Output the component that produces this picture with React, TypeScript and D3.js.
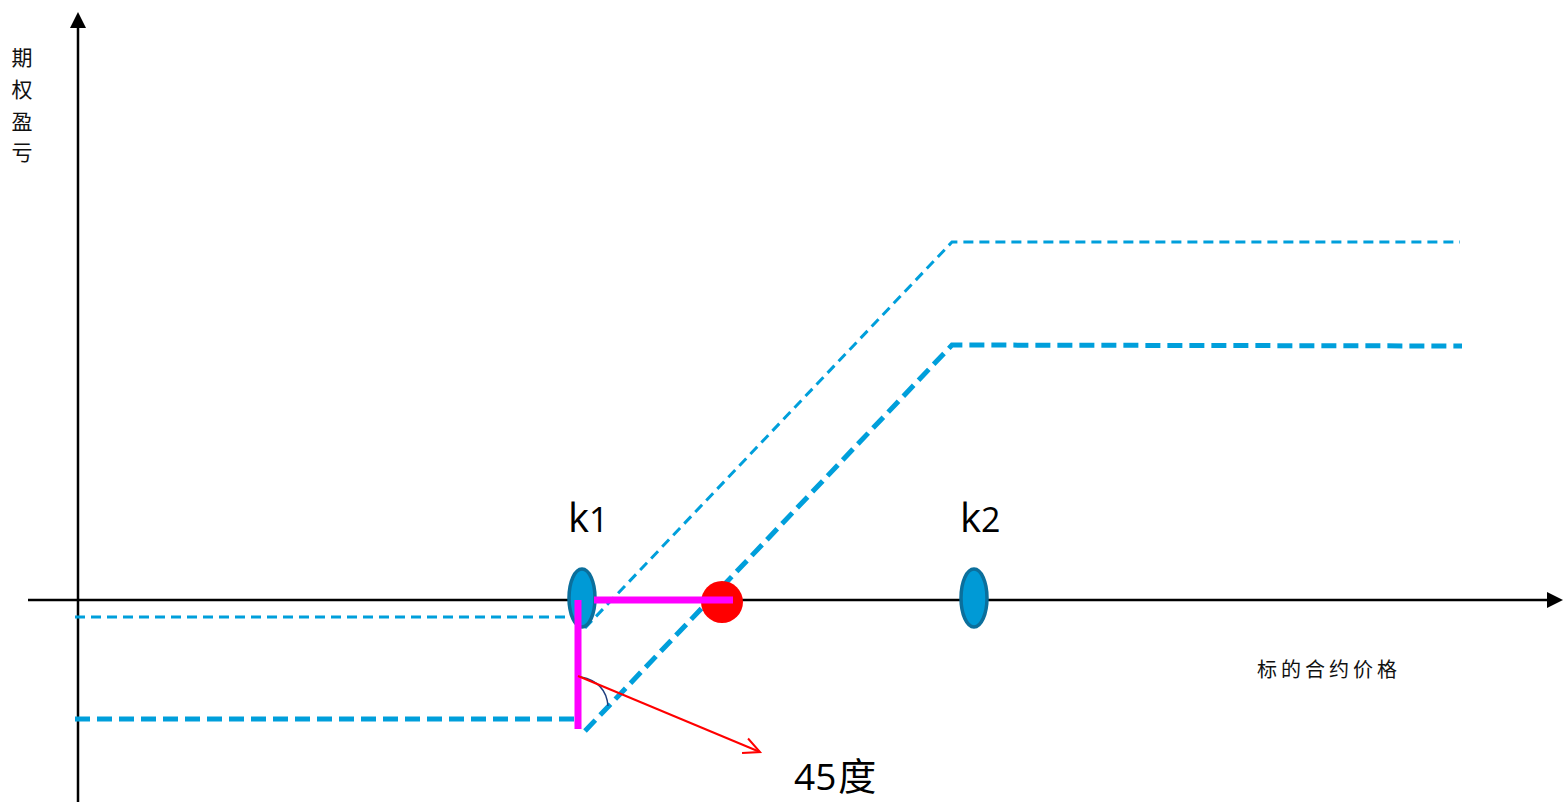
import React from "react";
import * as d3 from "d3";

const W = 1564;
const H = 802;

// price units (x) and profit units (y)
const xAxisExtent = [-5, 148.5];
const yAxisExtent = [-20.4, 58.8];

const thinFlat = [[-0.3, -1.7], [50.3, -1.7]];
const thinRise = [[50.7, -2.8], [87.4, 35.8], [138.2, 35.8]];
const thickFlat = [[-0.3, -11.9], [50.0, -11.9]];
const thickRise = [[50.7, -13.1], [87.4, 25.5], [138.4, 25.4]];

const strikes = [{ label: "k", sub: "1", x: 50.4 }, { label: "k", sub: "2", x: 89.6 }];
const breakEven = [64.4, -0.2];
const magentaH = [[51.6, 0], [65.5, 0]];
const magentaV = [[50.0, 0], [50.0, -12.9]];
const angleArrow = [[50.0, -7.6], [68.2, -15.2]];

const yLabelChars = ["期", "权", "盈", "亏"];
const xLabel = "标的合约价格";
const angleLabel = ["45", "度"];

const x = d3.scaleLinear().domain([0, 150]).range([78, 1578]);
const y = d3.scaleLinear().domain([0, 60]).range([600, 0]);
const line = d3.line<number[]>().x((d) => x(d[0])).y((d) => y(d[1]));

export default function App() {
  const ax0 = x(xAxisExtent[0]);
  const ax1 = x(xAxisExtent[1]);
  const ay = y(0);
  const vx = x(0);
  const vy0 = y(yAxisExtent[0]);
  const vy1 = y(yAxisExtent[1]);
  const blue = "#009fdb";
  const arr0 = angleArrow[0];
  const arr1 = angleArrow[1];
  const ex = x(arr1[0]);
  const ey = y(arr1[1]);
  const ang = Math.atan2(ey - y(arr0[1]), ex - x(arr0[0]));
  const hl = 18;
  const ha = 0.45;
  const arcStart = [x(arr0[0]) + 3, y(arr0[1]) + 1];
  return (
    <svg width={W} height={H} style={{ position: "absolute", left: 0, top: 0, background: "#fff" }}>
      {/* axes */}
      <line x1={ax0} y1={ay} x2={ax1 - 14} y2={ay} stroke="#000" strokeWidth={2.5} />
      <polygon points={`${ax1},${ay} ${ax1 - 16},${ay - 8} ${ax1 - 16},${ay + 8}`} fill="#000" />
      <line x1={vx} y1={vy0} x2={vx} y2={vy1 + 14} stroke="#000" strokeWidth={2.5} />
      <polygon points={`${vx},${vy1} ${vx - 8},${vy1 + 16} ${vx + 8},${vy1 + 16}`} fill="#000" />

      {/* payoff lines */}
      {[thinFlat, thinRise].map((d, i) => (
        <path key={"t" + i} d={line(d as number[][]) || ""} fill="none" stroke={blue} strokeWidth={3} strokeDasharray="10 6" />
      ))}
      {[thickFlat, thickRise].map((d, i) => (
        <path key={"k" + i} d={line(d as number[][]) || ""} fill="none" stroke={blue} strokeWidth={5} strokeDasharray="15 7" />
      ))}

      {/* strike markers */}
      {strikes.map((s, i) => (
        <g key={i}>
          <ellipse cx={x(s.x)} cy={y(0.2)} rx={13} ry={29} fill="#009ad6" stroke="#0b6f9c" strokeWidth={3.5} />
          <text x={x(s.x) - 14} y={532} fontFamily="'Open Sans', 'Noto Sans', sans-serif" fontSize={40} fill="#000">
            {s.label}
            <tspan fontSize={34}>{s.sub}</tspan>
          </text>
        </g>
      ))}

      {/* break-even point */}
      <circle cx={x(breakEven[0])} cy={y(breakEven[1])} r={21} fill="#ff0000" />

      {/* magenta legs */}
      <path d={line(magentaH as number[][]) || ""} stroke="#ff00ff" strokeWidth={7} fill="none" />
      <path d={line(magentaV as number[][]) || ""} stroke="#ff00ff" strokeWidth={7} fill="none" />

      {/* angle arc */}
      <path d={`M${arcStart[0]},${arcStart[1]} Q${x(arr0[0]) + 28},${y(arr0[1]) + 6} ${x(arr0[0]) + 30},${y(arr0[1]) + 30}`} fill="none" stroke="#1f3f7f" strokeWidth={1.5} />

      {/* red arrow */}
      <line x1={x(arr0[0])} y1={y(arr0[1])} x2={ex} y2={ey} stroke="#ff0000" strokeWidth={2} />
      <path
        d={`M${ex - hl * Math.cos(ang - ha)},${ey - hl * Math.sin(ang - ha)} L${ex},${ey} L${ex - hl * Math.cos(ang + ha)},${ey - hl * Math.sin(ang + ha)}`}
        fill="none"
        stroke="#ff0000"
        strokeWidth={2}
      />

      {/* labels */}
      <text x={794} y={790} fontFamily="'Open Sans', 'Noto Sans', sans-serif" fontSize={37} fill="#000">
        {angleLabel[0]}<tspan fontFamily="'Noto Sans CJK SC'" fontSize={38} dx={2}>{angleLabel[1]}</tspan>
      </text>
      <text x={1257} y={677} fontFamily="'Noto Sans CJK SC'" fontSize={20} fill="#111" letterSpacing={4}>
        {xLabel}
      </text>
      {yLabelChars.map((c, i) => (
        <text key={c} x={22} y={65 + i * 31.8} textAnchor="middle" fontFamily="'Noto Sans CJK SC'" fontSize={21} fill="#111">
          {c}
        </text>
      ))}
    </svg>
  );
}
